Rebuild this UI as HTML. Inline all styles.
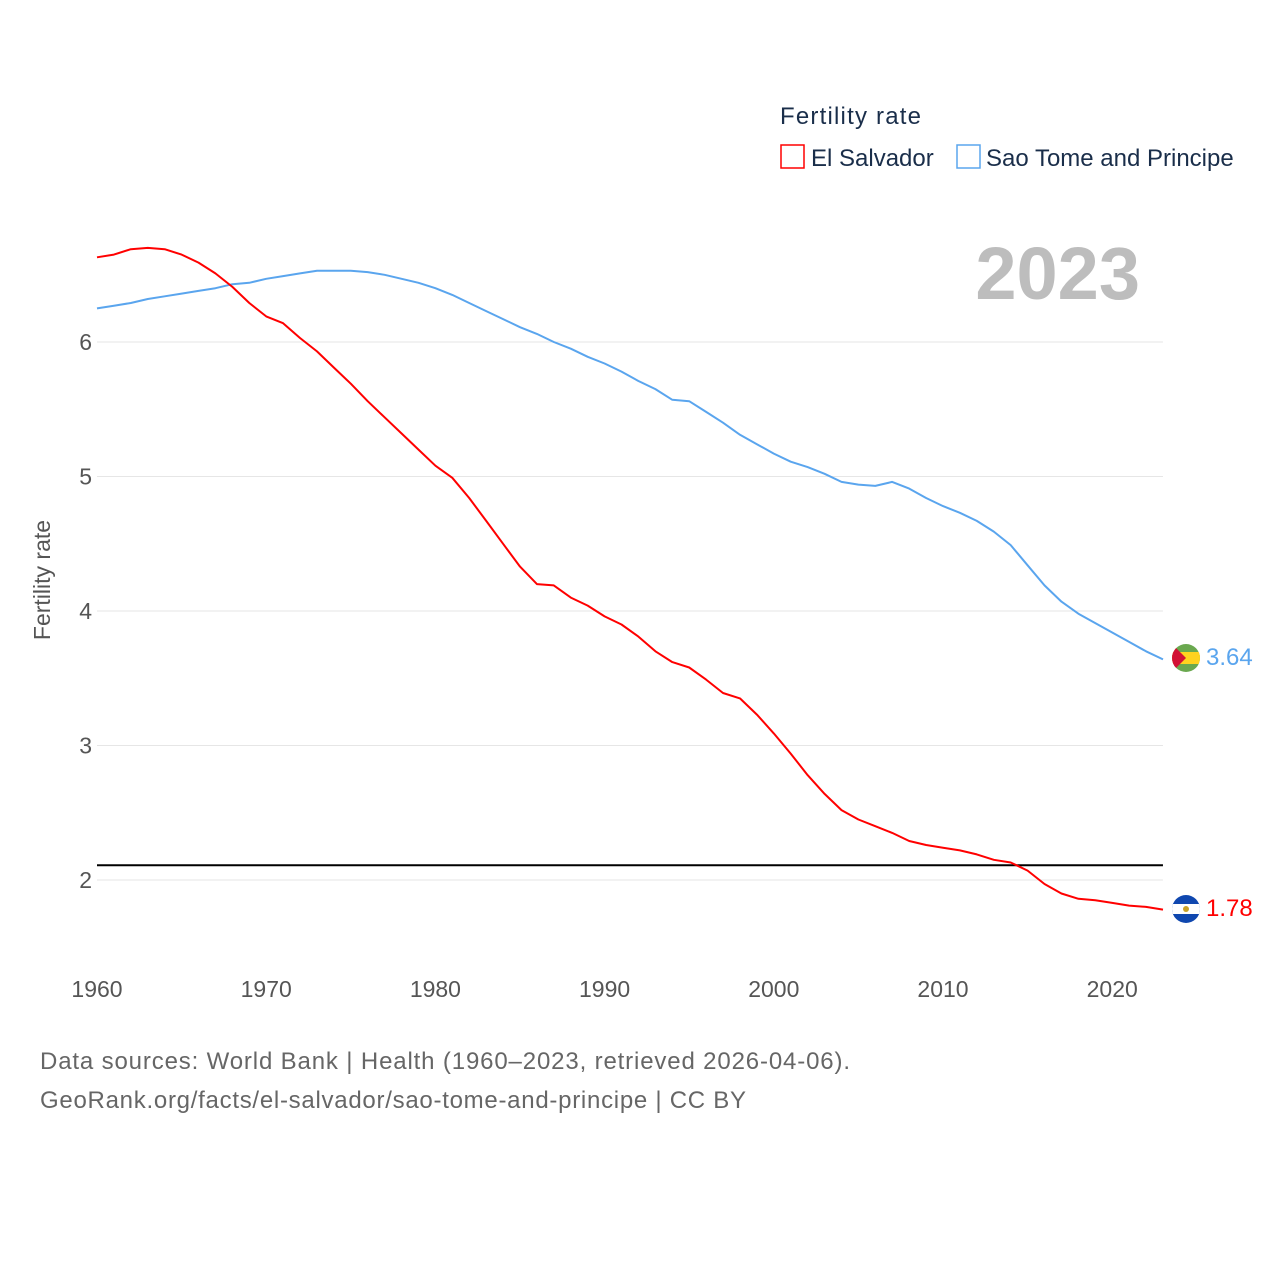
<!DOCTYPE html>
<html><head><meta charset="utf-8"><style>
body{margin:0;background:#fff;font-family:"Liberation Sans",sans-serif}
</style></head><body>
<svg id="chart" width="1280" height="1280" viewBox="0 0 1280 1280" xmlns="http://www.w3.org/2000/svg">
<rect width="1280" height="1280" fill="#fff"/>
<g id="grid"></g>
<g id="yticks" font-size="23" fill="#555"></g>
<g id="xticks" font-size="23" fill="#555"></g>
<text x="50" y="580" transform="rotate(-90 50 580)" text-anchor="middle" font-size="23" fill="#555">Fertility rate</text>
<text x="1140" y="299" text-anchor="end" font-size="74" font-weight="bold" fill="#bdbdbd">2023</text>
<g>
<text x="780" y="124" font-size="24" fill="#1a2e4a" textLength="141">Fertility rate</text>
<g><rect x="781" y="145" width="23" height="23" fill="none" stroke="#ff0000" stroke-width="1.5"/><text x="811" y="166" font-size="24" fill="#1a2e4a">El Salvador</text></g>
<g><rect x="957" y="145" width="23" height="23" fill="none" stroke="#5aa5ee" stroke-width="1.5"/><text x="986" y="166" font-size="24" fill="#1a2e4a">Sao Tome and Principe</text></g>
</g>
<g id="series"></g>
<g><clipPath id="c1"><circle cx="1186" cy="658" r="14"/></clipPath><g clip-path="url(#c1)"><rect x="1170" y="642" width="32" height="32" fill="#6aa84f"/><rect x="1170" y="652" width="32" height="12" fill="#ffd21f"/><polygon points="1172,644 1186,658 1172,672" fill="#d21034"/></g></g>
<g><clipPath id="c2"><circle cx="1186" cy="909" r="14"/></clipPath><g clip-path="url(#c2)"><rect x="1170" y="893" width="32" height="32" fill="#0f47af"/><rect x="1170" y="904" width="32" height="10" fill="#fff"/><circle cx="1186" cy="909" r="3" fill="#c9a227"/></g></g>
<text id="lbl1" x="1206" y="665" font-size="24" fill="#5aa5ee">3.64</text>
<text id="lbl2" x="1206" y="916" font-size="24" fill="#ff0000">1.78</text>
<text x="40" y="1069" font-size="24" fill="#666" textLength="810">Data sources: World Bank | Health (1960–2023, retrieved 2026-04-06).</text>
<text x="40" y="1108" font-size="24" fill="#666" textLength="706">GeoRank.org/facts/el-salvador/sao-tome-and-principe | CC BY</text>
</svg>
<script>
const startYear = 1960;
const elSalvador = [6.63,6.65,6.69,6.70,6.69,6.65,6.59,6.51,6.41,6.29,6.19,6.14,6.03,5.93,5.81,5.69,5.56,5.44,5.32,5.20,5.08,4.99,4.84,4.67,4.50,4.33,4.20,4.19,4.10,4.04,3.96,3.90,3.81,3.70,3.62,3.58,3.49,3.39,3.35,3.23,3.09,2.94,2.78,2.64,2.52,2.45,2.40,2.35,2.29,2.26,2.24,2.22,2.19,2.15,2.13,2.07,1.97,1.90,1.86,1.85,1.83,1.81,1.80,1.78];
const saoTome = [6.25,6.27,6.29,6.32,6.34,6.36,6.38,6.40,6.43,6.44,6.47,6.49,6.51,6.53,6.53,6.53,6.52,6.50,6.47,6.44,6.40,6.35,6.29,6.23,6.17,6.11,6.06,6.00,5.95,5.89,5.84,5.78,5.71,5.65,5.57,5.56,5.48,5.40,5.31,5.24,5.17,5.11,5.07,5.02,4.96,4.94,4.93,4.96,4.91,4.84,4.78,4.73,4.67,4.59,4.49,4.34,4.19,4.07,3.98,3.91,3.84,3.77,3.70,3.64];
const yTickValues = [2,3,4,5,6];
const xTickValues = [1960,1970,1980,1990,2000,2010,2020];
const replacementRate = 2.11;

const NS = "http://www.w3.org/2000/svg";
const xS = yr => 97 + (yr - 1960) * 16.92;
const yS = v => 880 - (v - 2) * 134.5;
const x0 = xS(1960), x1 = xS(2023);
function mk(tag, attrs, parent){const e=document.createElementNS(NS,tag);for(const k in attrs)e.setAttribute(k,attrs[k]);parent.appendChild(e);return e;}
const grid=document.getElementById('grid'), yt=document.getElementById('yticks'), xt=document.getElementById('xticks'), ser=document.getElementById('series');
yTickValues.forEach(v=>{
  const l=mk('line',{x1:x0,x2:x1,y1:yS(v),y2:yS(v),stroke:'#e6e6e6','stroke-width':1},grid);
  
  
  const t=mk('text',{x:92,y:yS(v)+8,'text-anchor':'end'},yt);t.textContent=v;
  
  
});
xTickValues.forEach(v=>{
  const t=mk('text',{x:xS(v),y:997,'text-anchor':'middle'},xt);t.textContent=v;
  
  
});
const rl=mk('line',{x1:x0,x2:x1,y1:yS(replacementRate),y2:yS(replacementRate),stroke:'#000','stroke-width':2},ser);


function line(data,color,name){
  const d=data.map((v,i)=>(i?'L':'M')+xS(startYear+i).toFixed(1)+','+yS(v).toFixed(1)).join(' ');
  const p=mk('path',{d:d,fill:'none',stroke:color,'stroke-width':2,'stroke-linejoin':'round'},ser);
  
  
}
line(saoTome,'#5aa5ee','line-sao-tome');
line(elSalvador,'#ff0000','line-el-salvador');
document.getElementById('lbl1').textContent=saoTome[saoTome.length-1].toFixed(2);
document.getElementById('lbl2').textContent=elSalvador[elSalvador.length-1].toFixed(2);
</script>
</body></html>
